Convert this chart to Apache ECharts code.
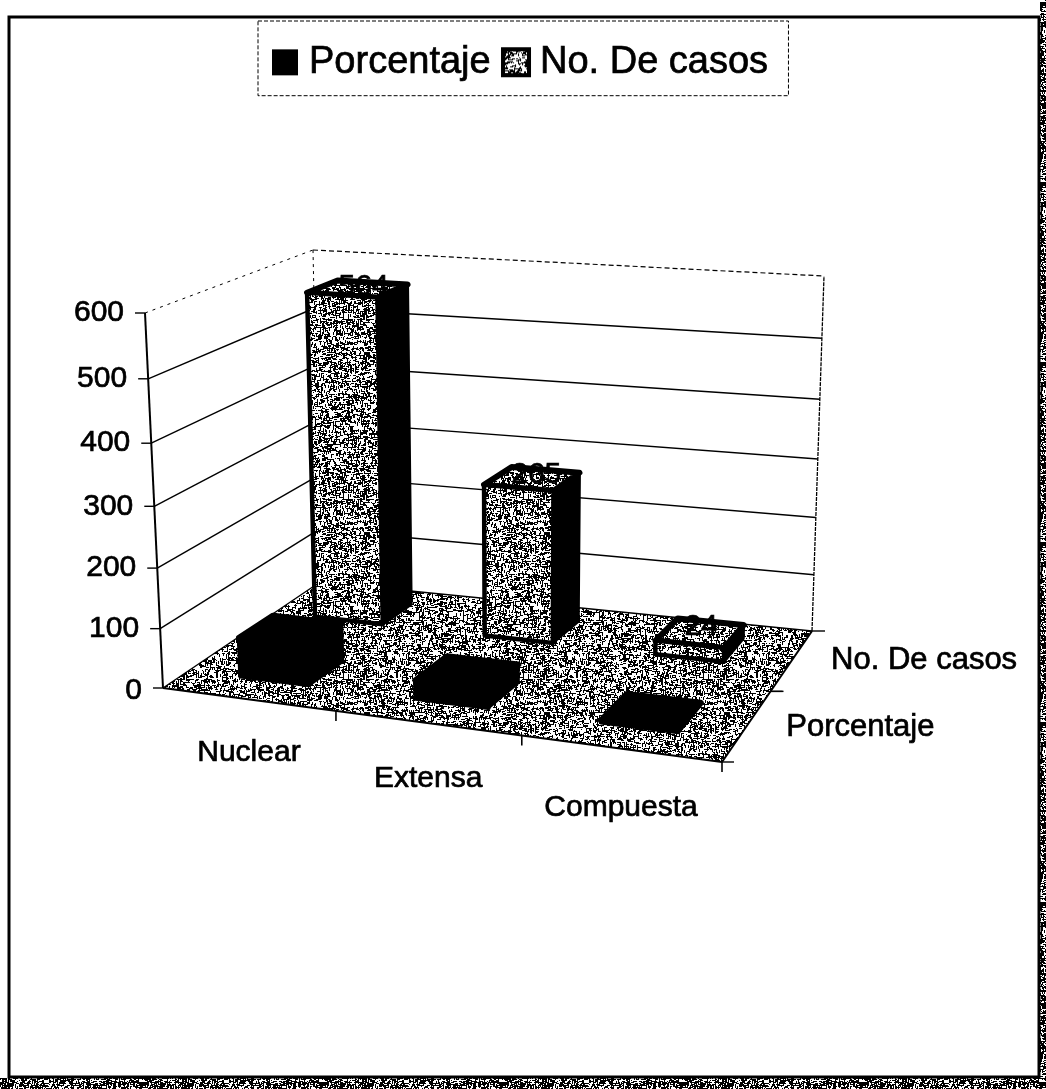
<!DOCTYPE html>
<html><head><meta charset="utf-8">
<style>html,body{margin:0;padding:0;background:#fff}#c{width:1046px;height:1089px}</style>
<script src="https://cdn.jsdelivr.net/npm/echarts@6/dist/echarts.min.js"></script>
</head><body><div id="c"></div>
<script>
const categories = ['Nuclear', 'Extensa', 'Compuesta'];
const seriesNames = ['Porcentaje', 'No. De casos'];
const porcentaje = [66, 31, 3];
const noDeCasos = [564, 265, 24];
const yTicks = [0, 100, 200, 300, 400, 500, 600];
const FONT = '"Liberation Sans", Arial, sans-serif';

/* fixed stipple tile, standing in for the scanned halftone */
function stipple(size, density) {
  const cv = document.createElement('canvas');
  cv.width = cv.height = size;
  const g = cv.getContext('2d');
  g.fillStyle = '#fff'; g.fillRect(0, 0, size, size);
  g.fillStyle = '#000';
  let s = 12345;
  const next = () => (s = (s * 1103515245 + 12345) & 0x7fffffff) / 0x7fffffff;
  const n = size * size * density / 2.4;
  for (let k = 0; k < n; k++) {
    const x = Math.floor(next() * size), y = Math.floor(next() * size), o = next();
    if (o < .4) g.fillRect(x, y, 3, 1);
    else if (o < .8) g.fillRect(x, y, 1, 3);
    else g.fillRect(x, y, 1, 1);
  }
  return cv;
}
const speck = { image: stipple(180, .62), repeat: 'repeat' };
const band = { image: stipple(180, 1.0), repeat: 'repeat' };

/* box corners on screen: floor (value 0) and ceiling (value 600) */
const floorQuad = [[163, 688], [722, 762], [812, 631], [320, 582]];
const topQuad = [[145, 313], [731, 367], [824, 276], [313, 250]];
const mix = (a, b, t) => [a[0] + (b[0] - a[0]) * t, a[1] + (b[1] - a[1]) * t];
const G = { left: 100, top: 100, width: 800, height: 800 };
const VP = 0.94, DEPTH_K = 1.17, WIDTH_K = 0.896;
function plane(q, u, w) {
  const k = WIDTH_K + 0.14 * w;
  const uu = k * u / (1 + (k - 1) * u);
  const ww = DEPTH_K * w / (1 + (DEPTH_K - 1) * w);
  return mix(mix(q[0], q[1], uu), mix(q[3], q[2], uu), ww);
}
/* category position + depth slot + value -> screen, via the chart's own axes */
function proj(api, cat, depth, val) {
  const p = api.coord([cat, val]);
  const u = (p[0] - G.left) / G.width;
  const t = (G.top + G.height - p[1]) / G.height;
  const tt = VP * t / (1 + (VP - 1) * t);
  const w = depth / 2;
  return mix(plane(floorQuad, u, w), plane(topQuad, u, w), tt);
}
const XMIN = -0.5, XMAX = 2.5;
const line = (a, b, w, dash) => ({
  type: 'line', shape: { x1: a[0], y1: a[1], x2: b[0], y2: b[1] },
  style: { stroke: '#000', lineWidth: w, lineDash: dash || null }
});
const poly = (pts, fill, lw) => ({
  type: 'polygon', shape: { points: pts },
  style: { fill, stroke: '#000', lineWidth: lw, lineJoin: 'round' }
});
const text = (x, y, s, align, size) => ({
  type: 'text', x, y,
  style: { text: s, fill: '#000', stroke: '#000', lineWidth: .7, font: (size || 30) + 'px ' + FONT, align: align || 'center', verticalAlign: 'middle' }
});

function renderWalls(params, api) {
  const v = api.value(0);
  const fl = proj(api, XMIN, 0, v), bl = proj(api, XMIN, 2, v), br = proj(api, XMAX, 2, v);
  const top = v === 600;
  const kids = [
    line(fl, bl, top ? 1 : 1.4, top ? [3, 5] : null),
    line(bl, br, top ? 1.2 : 1.4, top ? [5, 3] : null),
    line([fl[0] - 10, fl[1]], fl, 1.4),
    text(fl[0] - 21, fl[1] + (v === 0 ? 3 : 0), String(v), 'right')
  ];
  if (v === 0) {
    const T = proj(api, XMIN, 0, 600), B = proj(api, XMIN, 2, 600), R = proj(api, XMAX, 2, 600);
    kids.unshift(line(proj(api, XMIN, 2, 0), B, 1, [3, 4]));
    kids.unshift(line(br, R, 1.3, [4, 1]));
    kids.unshift(line(fl, T, 2));
  }
  return { type: 'group', children: kids };
}
function renderFloor(params, api) {
  const a = proj(api, XMIN, 0, 0), b = proj(api, XMAX, 0, 0), c = proj(api, XMAX, 2, 0), d = proj(api, XMIN, 2, 0);
  return { type: 'group', children: [
    { type: 'polygon', shape: { points: [a, b, c, d] }, style: { fill: speck } },
    line(a, b, 2), line(b, c, 2)
  ] };
}
function renderCatAxis(params, api) {
  const i = api.value(0);
  const tick = proj(api, i + .5, 0, 0);
  const lab = proj(api, i, 0, 0);
  return { type: 'group', children: [
    line(tick, [tick[0], tick[1] + 10], 1.6),
    text(lab[0] + 1, lab[1] + 53 + 3 * i, categories[i], 'center', 30)
  ] };
}
function renderDepthAxis(params, api) {
  const i = api.value(0);
  const a = proj(api, XMAX, i, 0), b = proj(api, XMAX, i + 1, 0);
  const mid = proj(api, XMAX, i + .5, 0);
  return { type: 'group', children: [
    line(a, [a[0] + 12, a[1]], 1.4),
    line(b, [b[0] + 13, b[1]], 1.4),
    text(mid[0] + 39, mid[1] + (i ? 0 : 2), seriesNames[i], 'left', 31)
  ] };
}
const HW = 0.2, HD = 0.2;
function makeBar(depth, catShift, depthShift, frontFill, showLabel) {
  return function (params, api) {
    const i = api.value(0), v = api.value(1);
    const c0 = i - HW + catShift, c1 = i + HW + catShift;
    const d0 = depth + .5 - HD + depthShift, d1 = depth + .5 + HD + depthShift;
    const p = (c, d, h) => proj(api, c, d, h);
    const kids = [
      poly([p(c0, d0, v), p(c1, d0, v), p(c1, d1, v), p(c0, d1, v)], frontFill, 6),
      poly([p(c1, d0, 0), p(c1, d1, 0), p(c1, d1, v), p(c1, d0, v)], '#000', 3),
      poly([p(c0, d0, 0), p(c1, d0, 0), p(c1, d0, v), p(c0, d0, v)], frontFill, 4.5)
    ];
    if (showLabel) {
      const a = p(i, d1, v);
      kids.push(text(a[0] - 20, a[1] + 4, String(v)));
    }
    return { type: 'group', children: kids };
  };
}
const custom = (name, data, fn, extra) => Object.assign({
  type: 'custom', name, data, renderItem: fn, coordinateSystem: 'cartesian2d', clip: false, silent: true, animation: false
}, extra || {});

const W = 1046, H = 1089;
const chart = echarts.init(document.getElementById('c'), null, { renderer: 'canvas', width: W, height: H });
chart.setOption({
  backgroundColor: '#fff',
  animation: false,
  grid: { left: G.left, top: G.top, width: G.width, height: G.height, show: false },
  xAxis: { type: 'value', min: XMIN, max: XMAX, show: false },
  yAxis: { type: 'value', min: 0, max: 600, interval: 100, show: false },
  legend: {
    left: 258, top: 21, orient: 'horizontal',
    padding: [22, 20, 14, 14], itemWidth: 26, itemHeight: 26, itemGap: 10,
    borderColor: '#000', borderWidth: 1, borderType: 'dashed',
    textStyle: { fontFamily: FONT, fontSize: 38, color: '#000', padding: [0, 0, 18, 6], textBorderColor: '#000', textBorderWidth: .7 },
    data: [
      { name: seriesNames[0], icon: 'rect', itemStyle: { color: '#000' } },
      { name: seriesNames[1], icon: 'rect', itemStyle: { color: speck, borderColor: '#000', borderWidth: 4 } }
    ]
  },
  graphic: [
    { type: 'rect', shape: { x: 1040, y: 0, width: 6, height: H }, style: { fill: band } },
    { type: 'rect', shape: { x: 0, y: 1078, width: W, height: 11 }, style: { fill: band } },
    { type: 'rect', shape: { x: 9, y: 17, width: 1030, height: 1060 }, style: { fill: 'none', stroke: '#000', lineWidth: 3 } }
  ],
  series: [
    custom('floor', [[0]], renderFloor, { z: 1 }),
    custom('walls', yTicks.map(v => [v]), renderWalls, { z: 2 }),
    custom('catAxis', categories.map((c, i) => [i]), renderCatAxis, { z: 3 }),
    custom('depthAxis', seriesNames.map((c, i) => [i]), renderDepthAxis, { z: 3 }),
    custom(seriesNames[1], noDeCasos.map((v, i) => [i, v]), makeBar(1, -.063, .06, speck, true), { z: 4, itemStyle: { color: '#888' } }),
    custom(seriesNames[0], porcentaje.map((v, i) => [i, v]), makeBar(0, 0, 0, '#000', false), { z: 5, itemStyle: { color: '#000' } })
  ]
});
</script></body></html>
